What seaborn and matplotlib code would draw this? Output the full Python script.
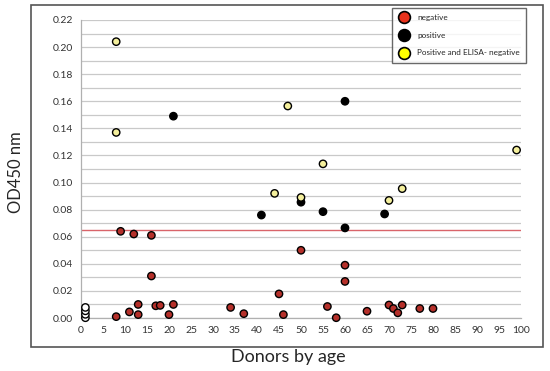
import numpy as np
import pandas as pd
import matplotlib
matplotlib.use("Agg")
import matplotlib.pyplot as plt
from matplotlib.lines import Line2D
from matplotlib.patches import Rectangle
import seaborn as sns

# negative (ELISA)
neg_age = [9, 12, 16, 16, 8, 11, 13, 13, 17, 18, 20, 21, 34, 37, 45, 46,
           50, 60, 60, 56, 58, 65, 70, 71, 72, 73, 77, 80]
neg_od = [0.064, 0.062, 0.061, 0.031, 0.001, 0.0045, 0.010, 0.0025, 0.009,
          0.0093, 0.0025, 0.010, 0.0078, 0.0032, 0.0178, 0.0025,
          0.050, 0.039, 0.027, 0.0085, 0.0002, 0.005, 0.0096, 0.007, 0.0038,
          0.0096, 0.007, 0.007]

# positive
pos_age = [21, 60, 41, 50, 55, 69, 60]
pos_od = [0.149, 0.160, 0.076, 0.0855, 0.0785, 0.0768, 0.0665]

# positive and ELISA-negative
pe_age = [8, 8, 47, 99, 55, 44, 50, 73, 70]
pe_od = [0.204, 0.137, 0.1565, 0.124, 0.1138, 0.092, 0.089, 0.0955, 0.0868]

# controls at age ~1 (white)
ctl_age = [1, 1, 1, 1]
ctl_od = [0.0002, 0.0027, 0.0053, 0.0078]

cutoff = 0.065

df = pd.concat([
    pd.DataFrame({"age": neg_age, "od": neg_od, "group": "negative"}),
    pd.DataFrame({"age": pos_age, "od": pos_od, "group": "positive"}),
    pd.DataFrame({"age": pe_age, "od": pe_od, "group": "Positive and ELISA- negative"}),
    pd.DataFrame({"age": ctl_age, "od": ctl_od, "group": "control"}),
])

sns.set_style("white")
plt.rcParams['font.family'] = ['Lato', 'DejaVu Sans']

fig = plt.figure(figsize=(5.5, 3.71), dpi=100)
ax = fig.add_axes([81 / 550, 1 - 318 / 371, 440 / 550, 298 / 371])

# chart frame
fig.patches.append(Rectangle((31 / 550, 1 - 347 / 371), 512 / 550, 342 / 371,
                             transform=fig.transFigure, fill=False,
                             edgecolor="#555555", linewidth=1.2, zorder=0))

ax.set_xlim(0, 100)
ax.set_ylim(0, 0.22)
ax.set_yticks(np.arange(0, 0.2201, 0.02))
ax.set_yticks(np.arange(0, 0.2201, 0.01), minor=True)
ax.set_xticks(np.arange(0, 101, 5))
ax.grid(True, axis="y", which="both", color="#c9c9c9", linewidth=0.9)
ax.set_axisbelow(True)
for s in ["top", "right"]:
    ax.spines[s].set_visible(False)
for s in ["left", "bottom"]:
    ax.spines[s].set_color("#b0b0b0")
    ax.spines[s].set_linewidth(0.9)
ax.tick_params(axis="both", which="both", direction="out", length=3,
               color="#b0b0b0", width=0.8, labelsize=7.5, labelcolor="#333333", pad=3)
ax.yaxis.set_major_formatter(matplotlib.ticker.FormatStrFormatter("%.2f"))

ax.axhline(cutoff, color="#d9646a", linewidth=1.0, zorder=1)

palette = {"negative": "#b5302a", "positive": "#000000",
           "Positive and ELISA- negative": "#f4ef9c", "control": "#ffffff"}
sns.scatterplot(data=df, x="age", y="od", hue="group", palette=palette,
                edgecolor="black", linewidth=1.0, s=28, legend=False,
                ax=ax, clip_on=False, zorder=3)

ax.set_xlabel("")
ax.set_ylabel("")
fig.text(288 / 550, 1 - 357 / 371, "Donors by age", ha="center", va="center", fontsize=13)
fig.text(16 / 550, 1 - 172 / 371, "OD450 nm", ha="center", va="center",
         fontsize=12, rotation=90)

handles = [
    Line2D([], [], marker="o", linestyle="", markersize=8.5, markerfacecolor="#e8321c",
           markeredgecolor="black", markeredgewidth=1.2, label="negative"),
    Line2D([], [], marker="o", linestyle="", markersize=8.5, markerfacecolor="black",
           markeredgecolor="black", markeredgewidth=1.2, label="positive"),
    Line2D([], [], marker="o", linestyle="", markersize=8.5, markerfacecolor="#ffff00",
           markeredgecolor="black", markeredgewidth=1.2, label="Positive and ELISA- negative"),
]
leg = fig.legend(handles=handles, loc="upper right",
                 bbox_to_anchor=(526 / 550, 1 - 8 / 371), fontsize=5.9,
                 frameon=True, fancybox=False, edgecolor="#444444",
                 handletextpad=1.0, labelspacing=1.3, borderpad=0.75,
                 handlelength=1.3, borderaxespad=0.0)
leg.get_frame().set_linewidth(1.0)

fig.savefig("out.png", dpi=100)
